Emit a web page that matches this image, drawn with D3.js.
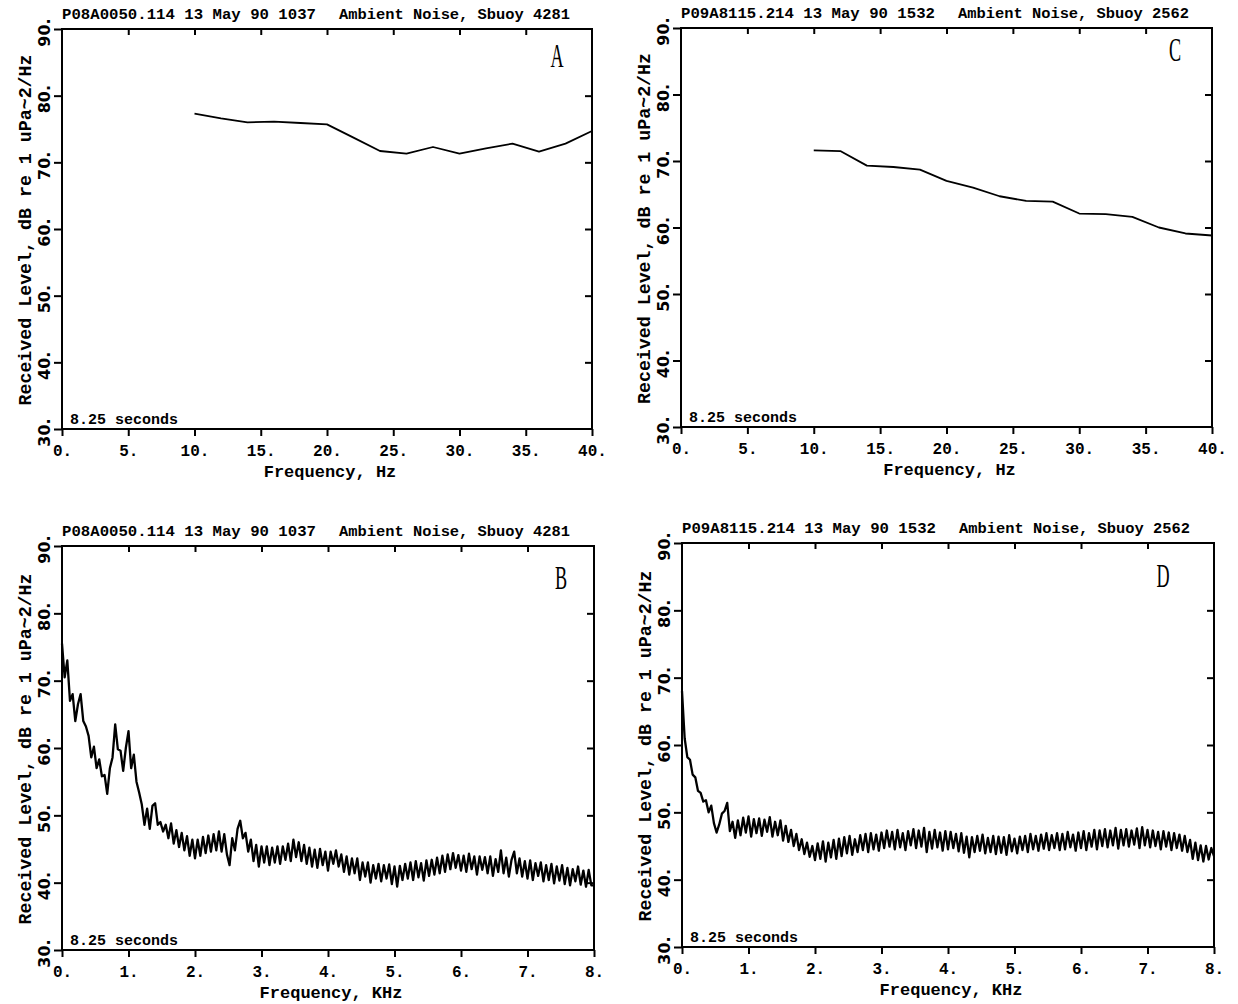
<!DOCTYPE html>
<html>
<head>
<meta charset="utf-8">
<script src="https://cdn.jsdelivr.net/npm/d3@7"></script>
<style>
body { margin: 0; background: #fff; }
text { font-family: "Liberation Mono", monospace; font-weight: bold; fill: #000; }
</style>
</head>
<body>
<svg id="chart" width="1238" height="1004"></svg>
<script>
// Tick values
var yTicks = [30, 40, 50, 60, 70, 80, 90];
var hzTicks = [0, 5, 10, 15, 20, 25, 30, 35, 40];
var khzTicks = [0, 1, 2, 3, 4, 5, 6, 7, 8];

// Low band spectra (Hz), panels A and C
var lowHz = [10, 12, 14, 16, 18, 20, 22, 24, 26, 28, 30, 32, 34, 36, 38, 40];
var levelA = [77.3, 76.6, 76.0, 76.1, 75.9, 75.7, 73.7, 71.7, 71.3, 72.3, 71.3, 72.1, 72.8, 71.6, 72.8, 74.7];
var levelC = [71.6, 71.5, 69.3, 69.1, 68.7, 67.0, 66.0, 64.7, 64.0, 63.9, 62.1, 62.0, 61.6, 60.0, 59.1, 58.8];

// High band spectra (KHz), panels B and D, one value every 0.04 KHz from 0
var khzStep = 0.04;
var levelB = [
  75.5, 70.5, 73.0, 67.0, 68.0, 64.0, 66.5, 68.0, 64.0, 63.2,
  61.8, 58.6, 60.2, 57.0, 58.3, 55.8, 56.0, 53.2, 57.0, 58.6,
  63.5, 59.8, 59.6, 56.6, 60.0, 62.5, 57.0, 59.0, 55.0, 53.4,
  51.6, 48.6, 51.0, 48.0, 51.4, 51.8, 48.6, 49.0, 47.6, 48.6,
  46.6, 48.8, 45.8, 47.8, 45.3, 47.4, 44.8, 46.9, 44.0, 46.4,
  43.6, 46.4, 44.0, 46.8, 44.4, 47.0, 44.6, 47.2, 44.8, 47.6,
  44.6, 47.2, 44.2, 42.6, 46.6, 44.8, 48.0, 49.2, 46.6, 47.4,
  44.6, 46.4, 43.2, 45.6, 42.4, 45.4, 43.0, 45.4, 42.6, 45.2,
  43.0, 45.4, 42.8, 45.4, 43.4, 45.8, 43.2, 46.4, 43.8, 46.0,
  43.2, 45.6, 42.8, 45.2, 42.4, 44.9, 42.2, 45.0, 42.6, 44.6,
  41.8, 44.6, 42.8, 44.8, 42.4, 44.2, 41.6, 43.9, 41.2, 43.6,
  41.4, 43.6, 40.4, 43.0, 40.9, 43.0, 40.0, 42.6, 40.6, 42.8,
  40.2, 42.6, 40.6, 42.7, 39.8, 42.4, 39.4, 42.5, 40.4, 42.8,
  40.6, 43.0, 40.4, 43.2, 40.8, 42.9, 40.3, 43.3, 41.0, 43.4,
  41.2, 43.7, 41.4, 44.0, 41.6, 44.2, 42.0, 44.4, 42.2, 44.1,
  41.8, 44.0, 41.6, 44.3, 42.0, 43.9, 41.2, 43.9, 41.9, 43.8,
  41.4, 43.9, 41.0, 43.5, 41.6, 44.8, 41.4, 43.7, 40.9, 43.4,
  44.6, 41.4, 43.6, 40.9, 43.2, 40.6, 43.3, 40.4, 42.9, 41.0,
  43.0, 40.2, 42.6, 40.4, 42.8, 39.9, 42.4, 40.3, 42.6, 39.8,
  42.2, 39.6, 42.0, 40.2, 42.4, 39.7, 41.8, 39.4, 41.9, 39.6,
  39.6
];
var levelD = [
  68.0, 61.0, 58.2, 57.8, 55.6, 55.2, 53.2, 52.9, 51.6, 51.8,
  50.0, 51.0, 48.4, 47.0, 48.2, 49.8, 50.2, 51.4, 47.2, 48.6,
  46.2, 48.8, 46.6, 49.2, 47.0, 49.4, 46.4, 49.0, 46.9, 49.1,
  46.5, 48.9, 47.1, 49.3, 46.4, 48.6, 46.6, 48.8, 45.8, 48.0,
  45.6, 47.4, 45.0, 46.8, 44.4, 46.0, 43.8, 45.5, 43.4, 45.0,
  42.9, 45.4, 43.1, 45.7, 42.7, 45.5, 43.3, 45.9, 43.1, 46.1,
  43.5, 46.3, 43.9, 46.5, 43.7, 46.0, 44.1, 46.6, 44.4, 46.8,
  44.1, 46.9, 44.5, 46.7, 44.3, 47.0, 44.7, 47.3, 44.9, 47.1,
  44.5, 47.4, 44.8, 46.9, 44.4, 47.2, 45.1, 47.5, 44.7, 47.3,
  44.9, 47.7, 44.1, 47.1, 44.6, 47.4, 44.8, 47.0, 44.3, 47.2,
  44.5, 47.1, 44.7, 46.8, 44.2, 46.9, 44.0, 46.4, 43.3, 46.3,
  44.1, 46.5, 44.3, 46.7, 43.9, 46.2, 44.1, 46.5, 43.8, 46.4,
  44.0, 46.3, 43.7, 46.6, 44.2, 46.1, 43.9, 46.4, 44.4, 46.5,
  44.1, 46.8, 44.5, 46.5, 44.3, 46.7, 44.6, 46.9, 44.4, 46.6,
  44.7, 46.9, 44.4, 46.8, 44.5, 47.1, 44.8, 46.7, 44.3, 47.0,
  44.7, 47.2, 44.4, 46.9, 44.9, 47.4, 44.5, 47.3, 45.0, 47.5,
  44.8, 47.3, 45.1, 47.7, 44.6, 47.4, 45.1, 47.5, 44.9, 47.3,
  45.2, 47.6, 44.7, 47.8, 45.1, 47.4, 44.8, 47.3, 45.0, 47.1,
  44.5, 47.2, 44.9, 47.0, 44.4, 46.9, 44.7, 46.7, 44.3, 46.5,
  44.1, 45.9, 43.1, 45.5, 42.9, 45.1, 42.7, 45.0, 43.0, 44.7,
  43.5
];

// Header text, split in the two runs the plotter printed
var headA = "P08A0050.114 13 May 90 1037";
var headC = "P09A8115.214 13 May 90 1532";
var descA = "Ambient Noise, Sbuoy 4281";
var descC = "Ambient Noise, Sbuoy 2562";
var yLabel = "Received Level, dB re 1 uPa~2/Hz";
var durationLabel = "8.25 seconds";

var svg = d3.select("#chart");

function zipHz(levels) {
    return lowHz.map((f, i) => [f, levels[i]]);
}
function zipKhz(levels) {
    return levels.map((v, i) => [i * khzStep, v]);
}

var panels = [
    { letter: "A", head: headA, desc: descA, left: 62, right: 592, top: 29, bottom: 429,
      xmax: 40, xticks: hzTicks, xlabel: "Frequency, Hz", pts: zipHz(levelA), lw: 1.8,
      lx: 557, ly: 67 },
    { letter: "C", head: headC, desc: descC, left: 681, right: 1212, top: 28, bottom: 427,
      xmax: 40, xticks: hzTicks, xlabel: "Frequency, Hz", pts: zipHz(levelC), lw: 1.8,
      lx: 1175, ly: 61 },
    { letter: "B", head: headA, desc: descA, left: 62, right: 594, top: 546, bottom: 950,
      xmax: 8, xticks: khzTicks, xlabel: "Frequency, KHz", pts: zipKhz(levelB), lw: 2.3,
      lx: 561, ly: 589 },
    { letter: "D", head: headC, desc: descC, left: 682, right: 1214, top: 543, bottom: 947,
      xmax: 8, xticks: khzTicks, xlabel: "Frequency, KHz", pts: zipKhz(levelD), lw: 2.3,
      lx: 1163, ly: 587 }
];

panels.forEach(drawPanel);

function drawPanel(p) {
    var x = d3.scaleLinear().domain([0, p.xmax]).range([p.left, p.right]);
    var y = d3.scaleLinear().domain([30, 90]).range([p.bottom, p.top]);
    var g = svg.append("g");

    // The spectrum
    g.append("path")
        .datum(p.pts)
        .attr("d", d3.line().x(d => x(d[0])).y(d => y(d[1])))
        .attr("fill", "none")
        .attr("stroke", "#000")
        .attr("stroke-width", p.lw)
        .attr("stroke-linejoin", "round");

    // Frame
    g.append("rect")
        .attr("x", p.left).attr("y", p.top)
        .attr("width", p.right - p.left).attr("height", p.bottom - p.top)
        .attr("fill", "none").attr("stroke", "#000").attr("stroke-width", 2);

    var inner = p.xticks.slice(1, -1);
    var innerY = yTicks.slice(1, -1);

    // Bottom axis with labels
    var bx = g.append("g")
        .attr("transform", "translate(0," + p.bottom + ")")
        .call(d3.axisBottom(x).tickValues(p.xticks).tickSize(7).tickSizeOuter(0)
            .tickFormat(d => d + "."));
    bx.selectAll("text").attr("y", 16).style("font-size", "16px");

    // Top axis, ticks inward
    g.append("g")
        .attr("transform", "translate(0," + p.top + ")")
        .call(d3.axisTop(x).tickValues(inner).tickSize(-6).tickSizeOuter(0).tickFormat(""));

    // Left axis with rotated labels
    var lx = g.append("g")
        .attr("transform", "translate(" + p.left + ",0)")
        .call(d3.axisLeft(y).tickValues(yTicks).tickSize(8).tickSizeOuter(0)
            .tickFormat(d => d + "."));
    lx.selectAll("text")
        .attr("x", null).attr("dy", null)
        .attr("text-anchor", "middle")
        .attr("transform", "translate(-12,3) rotate(-90)")
        .style("font-family", "'DejaVu Sans', sans-serif")
        .style("font-weight", "bold")
        .style("font-size", "16px");

    // Right axis, ticks inward
    g.append("g")
        .attr("transform", "translate(" + p.right + ",0)")
        .call(d3.axisRight(y).tickValues(innerY).tickSize(-7).tickSizeOuter(0).tickFormat(""));

    g.selectAll(".domain").remove();
    g.selectAll(".tick line").attr("stroke", "#000").attr("stroke-width", 2);

    // Header line in two runs
    g.append("text")
        .attr("x", p.left).attr("y", p.top - 10)
        .attr("textLength", 254).attr("lengthAdjust", "spacingAndGlyphs")
        .style("font-size", "14.5px")
        .text(p.head);
    g.append("text")
        .attr("x", p.left + 277).attr("y", p.top - 10)
        .attr("textLength", 231).attr("lengthAdjust", "spacingAndGlyphs")
        .style("font-size", "14.5px")
        .text(p.desc);

    // Axis titles
    g.append("text")
        .attr("x", (p.left + p.right) / 2 + 3)
        .attr("y", p.bottom + 48)
        .attr("text-anchor", "middle")
        .style("font-size", "17px")
        .text(p.xlabel);

    g.append("text")
        .attr("transform", "translate(" + (p.left - 31) + "," + ((p.top + p.bottom) / 2 + 1) + ") rotate(-90)")
        .attr("text-anchor", "middle")
        .style("font-size", "18.3px")
        .text(yLabel);

    // Duration note
    g.append("text")
        .attr("x", p.left + 8).attr("y", p.bottom - 5)
        .style("font-size", "15px")
        .text(durationLabel);

    // Panel letter
    g.append("text")
        .attr("transform", "translate(" + p.lx + "," + p.ly + ") scale(0.55,1)")
        .attr("text-anchor", "middle")
        .style("font-family", "'Liberation Serif', serif")
        .style("font-weight", "normal")
        .style("font-size", "33px")
        .text(p.letter);
}
</script>
</body>
</html>
